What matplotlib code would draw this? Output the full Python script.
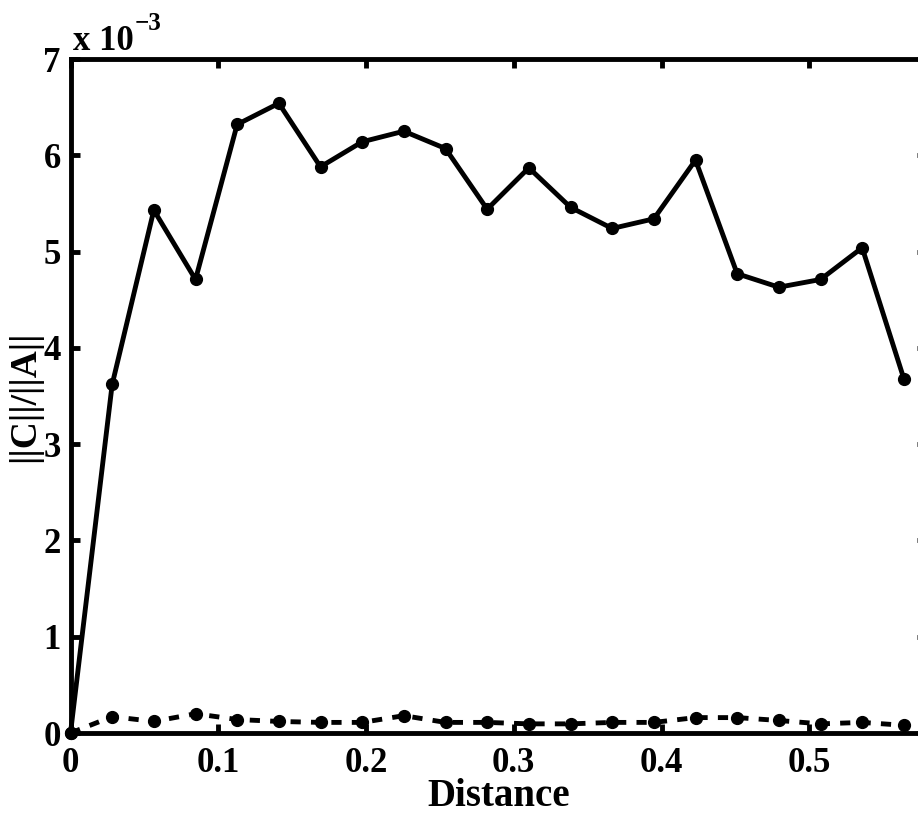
import matplotlib
matplotlib.use("Agg")
import matplotlib.pyplot as plt
import numpy as np

# Data (y values in units of 1e-3)
distance = [0.0, 0.0282, 0.0564, 0.0846, 0.1128, 0.141, 0.1692, 0.1974, 0.2256,
            0.2538, 0.282, 0.3102, 0.3384, 0.3666, 0.3948, 0.423, 0.4512, 0.4794,
            0.5076, 0.5358, 0.564]
solid_vals = [0.0, 3.62, 5.43, 4.71, 6.32, 6.54, 5.88, 6.14, 6.25, 6.07, 5.44,
              5.87, 5.46, 5.24, 5.34, 5.95, 4.77, 4.63, 4.71, 5.04, 3.68]
dashed_vals = [0.0, 0.17, 0.12, 0.20, 0.14, 0.12, 0.11, 0.11, 0.18, 0.11, 0.11,
               0.095, 0.095, 0.11, 0.11, 0.16, 0.16, 0.13, 0.095, 0.11, 0.08]
xticks = [0, 0.1, 0.2, 0.3, 0.4, 0.5]
xtick_labels = ["0", "0.1", "0.2", "0.3", "0.4", "0.5"]
yticks = [0, 1, 2, 3, 4, 5, 6, 7]
ytick_labels = ["0", "1", "2", "3", "4", "5", "6", "7"]

plt.rcParams['font.family'] = ['Liberation Serif', 'DejaVu Serif']
plt.rcParams['font.weight'] = 'bold'

W, H = 918, 813
fig = plt.figure(figsize=(W / 100, H / 100), dpi=100)
left_px, right_px, top_px, bottom_px = 70.5, 926, 59, 733
ax = fig.add_axes([left_px / W, 1 - bottom_px / H,
                   (right_px - left_px) / W, (bottom_px - top_px) / H])

lw = 3.5
ax.plot(distance, solid_vals, color='black', lw=lw, marker='o', ms=8.5,
        clip_on=False, zorder=3)
ax.plot(distance, dashed_vals, color='black', lw=lw, marker='o', ms=8.5,
        linestyle=(0, (2.1, 2.1)), clip_on=False, zorder=3)

ax.set_xlim(0, 0.579)
ax.set_ylim(0, 7)
ax.set_xticks(xticks)
ax.set_xticklabels(xtick_labels)
ax.set_yticks(yticks)
ax.set_yticklabels(ytick_labels)

for s in ax.spines.values():
    s.set_linewidth(lw)
ax.tick_params(axis='both', which='both', direction='in', length=6.5, width=lw,
               top=True, right=True, labelsize=25)
ax.tick_params(axis='x', pad=10)
ax.tick_params(axis='y', pad=7)
for lab in ax.get_xticklabels() + ax.get_yticklabels():
    lab.set_fontweight('bold')

ax.set_xlabel("Distance", fontsize=28, fontweight='bold', labelpad=-1.5)
ax.set_ylabel("||C||/||A||", fontsize=27, fontweight='bold', labelpad=1)

fig.text(73 / W, 1 - 50 / H, "x 10", fontsize=25, fontweight='bold',
         ha='left', va='baseline')
fig.text(135 / W, 1 - 30 / H, "\u22123", fontsize=18, fontweight='bold',
         ha='left', va='baseline')

fig.savefig("out.png", dpi=100)
